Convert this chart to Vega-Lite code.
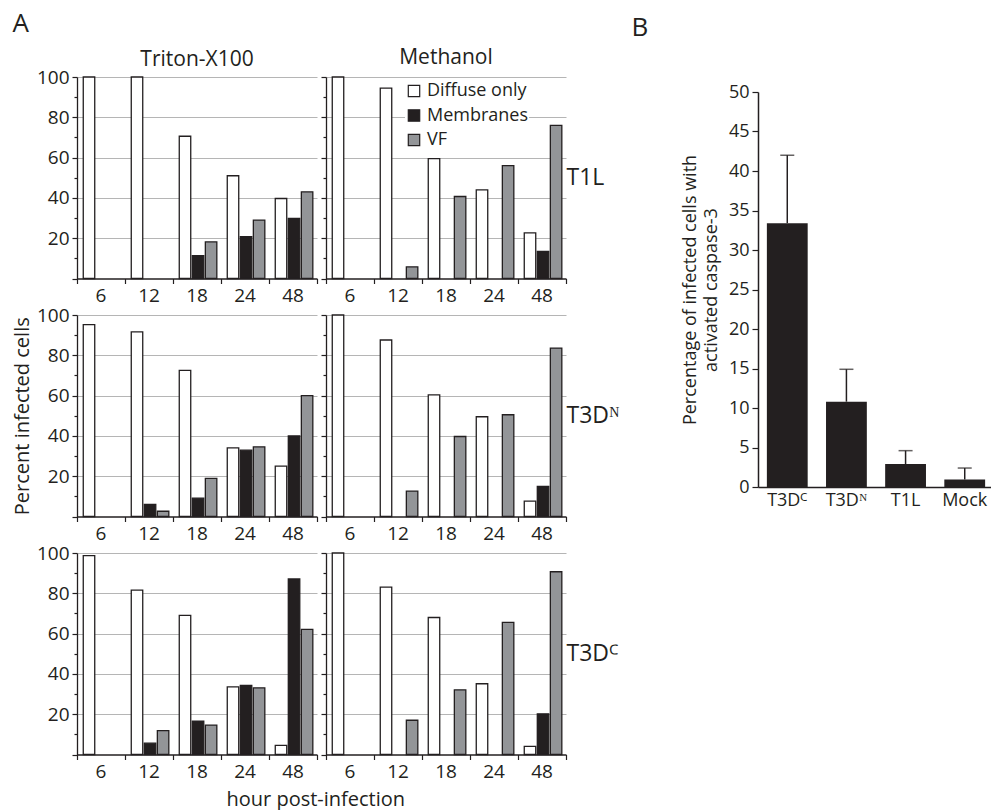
{
  "$schema": "https://vega.github.io/schema/vega-lite/v6.json",
  "padding": {"left": 12, "top": 11, "right": 0, "bottom": 0},
  "background": "white",
  "config": {
    "font": "Open Sans",
    "view": {"stroke": null},
    "axis": {"labelColor": "#231f20", "titleColor": "#231f20", "domainColor": "#231f20", "tickColor": "#231f20", "titleFontWeight": "normal", "domainWidth": 1.3, "tickWidth": 1.2, "labelFont": "Open Sans", "titleFont": "Open Sans"},
    "title": {"fontWeight": "normal", "color": "#231f20", "font": "Open Sans"},
    "legend": {"labelFont": "Open Sans", "labelColor": "#231f20"}
  },
  "datasets": {
    "a": [
      {"t": "Triton-X100", "v": "T1L", "hour": "6", "type": "Diffuse only", "pct": 100},
      {"t": "Triton-X100", "v": "T1L", "hour": "12", "type": "Diffuse only", "pct": 100},
      {"t": "Triton-X100", "v": "T1L", "hour": "18", "type": "Diffuse only", "pct": 70.6},
      {"t": "Triton-X100", "v": "T1L", "hour": "18", "type": "Membranes", "pct": 11.4},
      {"t": "Triton-X100", "v": "T1L", "hour": "18", "type": "VF", "pct": 18.2},
      {"t": "Triton-X100", "v": "T1L", "hour": "24", "type": "Diffuse only", "pct": 51},
      {"t": "Triton-X100", "v": "T1L", "hour": "24", "type": "Membranes", "pct": 20.8},
      {"t": "Triton-X100", "v": "T1L", "hour": "24", "type": "VF", "pct": 29},
      {"t": "Triton-X100", "v": "T1L", "hour": "48", "type": "Diffuse only", "pct": 39.7},
      {"t": "Triton-X100", "v": "T1L", "hour": "48", "type": "Membranes", "pct": 29.8},
      {"t": "Triton-X100", "v": "T1L", "hour": "48", "type": "VF", "pct": 43},
      {"t": "Methanol", "v": "T1L", "hour": "6", "type": "Diffuse only", "pct": 100},
      {"t": "Methanol", "v": "T1L", "hour": "12", "type": "Diffuse only", "pct": 94.5},
      {"t": "Methanol", "v": "T1L", "hour": "12", "type": "VF", "pct": 5.8},
      {"t": "Methanol", "v": "T1L", "hour": "18", "type": "Diffuse only", "pct": 59.5},
      {"t": "Methanol", "v": "T1L", "hour": "18", "type": "VF", "pct": 40.7},
      {"t": "Methanol", "v": "T1L", "hour": "24", "type": "Diffuse only", "pct": 44},
      {"t": "Methanol", "v": "T1L", "hour": "24", "type": "VF", "pct": 56},
      {"t": "Methanol", "v": "T1L", "hour": "48", "type": "Diffuse only", "pct": 22.6},
      {"t": "Methanol", "v": "T1L", "hour": "48", "type": "Membranes", "pct": 13.4},
      {"t": "Methanol", "v": "T1L", "hour": "48", "type": "VF", "pct": 76},
      {"t": "Triton-X100", "v": "T3DN", "hour": "6", "type": "Diffuse only", "pct": 95.2},
      {"t": "Triton-X100", "v": "T3DN", "hour": "12", "type": "Diffuse only", "pct": 91.6},
      {"t": "Triton-X100", "v": "T3DN", "hour": "12", "type": "Membranes", "pct": 6},
      {"t": "Triton-X100", "v": "T3DN", "hour": "12", "type": "VF", "pct": 2.6},
      {"t": "Triton-X100", "v": "T3DN", "hour": "18", "type": "Diffuse only", "pct": 72.5},
      {"t": "Triton-X100", "v": "T3DN", "hour": "18", "type": "Membranes", "pct": 9.1},
      {"t": "Triton-X100", "v": "T3DN", "hour": "18", "type": "VF", "pct": 18.9},
      {"t": "Triton-X100", "v": "T3DN", "hour": "24", "type": "Diffuse only", "pct": 34.1},
      {"t": "Triton-X100", "v": "T3DN", "hour": "24", "type": "Membranes", "pct": 32.9},
      {"t": "Triton-X100", "v": "T3DN", "hour": "24", "type": "VF", "pct": 34.6},
      {"t": "Triton-X100", "v": "T3DN", "hour": "48", "type": "Diffuse only", "pct": 25},
      {"t": "Triton-X100", "v": "T3DN", "hour": "48", "type": "Membranes", "pct": 40},
      {"t": "Triton-X100", "v": "T3DN", "hour": "48", "type": "VF", "pct": 60},
      {"t": "Methanol", "v": "T3DN", "hour": "6", "type": "Diffuse only", "pct": 100},
      {"t": "Methanol", "v": "T3DN", "hour": "12", "type": "Diffuse only", "pct": 87.6},
      {"t": "Methanol", "v": "T3DN", "hour": "12", "type": "VF", "pct": 12.6},
      {"t": "Methanol", "v": "T3DN", "hour": "18", "type": "Diffuse only", "pct": 60.4},
      {"t": "Methanol", "v": "T3DN", "hour": "18", "type": "VF", "pct": 39.7},
      {"t": "Methanol", "v": "T3DN", "hour": "24", "type": "Diffuse only", "pct": 49.5},
      {"t": "Methanol", "v": "T3DN", "hour": "24", "type": "VF", "pct": 50.5},
      {"t": "Methanol", "v": "T3DN", "hour": "48", "type": "Diffuse only", "pct": 7.6},
      {"t": "Methanol", "v": "T3DN", "hour": "48", "type": "Membranes", "pct": 14.9},
      {"t": "Methanol", "v": "T3DN", "hour": "48", "type": "VF", "pct": 83.6},
      {"t": "Triton-X100", "v": "T3DC", "hour": "6", "type": "Diffuse only", "pct": 98.7},
      {"t": "Triton-X100", "v": "T3DC", "hour": "12", "type": "Diffuse only", "pct": 81.6},
      {"t": "Triton-X100", "v": "T3DC", "hour": "12", "type": "Membranes", "pct": 5.6},
      {"t": "Triton-X100", "v": "T3DC", "hour": "12", "type": "VF", "pct": 11.8},
      {"t": "Triton-X100", "v": "T3DC", "hour": "18", "type": "Diffuse only", "pct": 69},
      {"t": "Triton-X100", "v": "T3DC", "hour": "18", "type": "Membranes", "pct": 16.6},
      {"t": "Triton-X100", "v": "T3DC", "hour": "18", "type": "VF", "pct": 14.6},
      {"t": "Triton-X100", "v": "T3DC", "hour": "24", "type": "Diffuse only", "pct": 33.6},
      {"t": "Triton-X100", "v": "T3DC", "hour": "24", "type": "Membranes", "pct": 34.3},
      {"t": "Triton-X100", "v": "T3DC", "hour": "24", "type": "VF", "pct": 33.1},
      {"t": "Triton-X100", "v": "T3DC", "hour": "48", "type": "Diffuse only", "pct": 4.5},
      {"t": "Triton-X100", "v": "T3DC", "hour": "48", "type": "Membranes", "pct": 87.1},
      {"t": "Triton-X100", "v": "T3DC", "hour": "48", "type": "VF", "pct": 62.1},
      {"t": "Methanol", "v": "T3DC", "hour": "6", "type": "Diffuse only", "pct": 100},
      {"t": "Methanol", "v": "T3DC", "hour": "12", "type": "Diffuse only", "pct": 83.1},
      {"t": "Methanol", "v": "T3DC", "hour": "12", "type": "VF", "pct": 17},
      {"t": "Methanol", "v": "T3DC", "hour": "18", "type": "Diffuse only", "pct": 68},
      {"t": "Methanol", "v": "T3DC", "hour": "18", "type": "VF", "pct": 32.1},
      {"t": "Methanol", "v": "T3DC", "hour": "24", "type": "Diffuse only", "pct": 35.1},
      {"t": "Methanol", "v": "T3DC", "hour": "24", "type": "VF", "pct": 65.6},
      {"t": "Methanol", "v": "T3DC", "hour": "48", "type": "Diffuse only", "pct": 4},
      {"t": "Methanol", "v": "T3DC", "hour": "48", "type": "Membranes", "pct": 20.2},
      {"t": "Methanol", "v": "T3DC", "hour": "48", "type": "VF", "pct": 90.7}
    ],
    "b": [
      {"group": "T3Dꟲ", "value": 33.4, "upper": 42},
      {"group": "T3Dᴺ", "value": 10.8, "upper": 14.9},
      {"group": "T1L", "value": 2.9, "upper": 4.6},
      {"group": "Mock", "value": 0.95, "upper": 2.4}
    ]
  },
  "hconcat": [
    {
      "title": {"text": "A", "anchor": "start", "fontSize": 26, "frame": "bounds", "offset": -11, "baseline": "alphabetic"},
      "resolve": {"scale": {"fill": "independent"}, "legend": {"fill": "independent"}},
      "vconcat": [
        {
          "title": {"text": "hour post-infection", "orient": "bottom", "anchor": "middle", "fontSize": 20, "offset": 8},
          "columns": 2,
          "bounds": "flush",
          "spacing": {"row": 36, "column": 9},
          "resolve": {"scale": {"fill": "independent"}, "legend": {"fill": "independent"}},
          "concat": [
            {
              "width": 240, "height": 201.5,
              "title": {"text": "Triton-X100", "frame": "group", "offset": -19, "baseline": "alphabetic", "fontSize": 21},
              "data": {"name": "a"},
              "transform": [{"filter": "datum.t == 'Triton-X100' && datum.v == 'T1L'"}],
              "mark": {"type": "bar", "stroke": "#231f20", "strokeWidth": 1.3},
              "encoding": {
                "x": {"field": "hour", "type": "ordinal", "sort": ["6", "12", "18", "24", "48"], "scale": {"domain": ["6", "12", "18", "24", "48"], "paddingInner": 0, "paddingOuter": 0}, "axis": {"title": null, "labelAngle": 0, "bandPosition": 1, "tickExtra": true, "tickSize": 5, "labelFontSize": 19, "labelPadding": 3, "grid": false}},
                "xOffset": {"field": "type", "type": "nominal", "scale": {"domain": ["Diffuse only", "Membranes", "VF"], "paddingInner": 0.12, "paddingOuter": 0.4, "align": 0.6}},
                "y": {"field": "pct", "type": "quantitative", "scale": {"domain": [0, 100], "nice": false}, "axis": {"title": null, "values": [0, 10, 20, 30, 40, 50, 60, 70, 80, 90, 100], "labelExpr": "datum.value % 20 == 0 && datum.value > 0 ? datum.label : ''", "tickSize": {"condition": {"test": "datum.value % 20 == 0", "value": 5}, "value": 3}, "grid": true, "gridOpacity": {"condition": {"test": "datum.value % 20 == 0 && datum.value > 0", "value": 1}, "value": 0}, "gridColor": "#b5b5b5", "gridWidth": 1.2, "labelFontSize": 19, "labelPadding": 3}},
                "fill": {"field": "type", "type": "nominal", "scale": {"domain": ["Diffuse only", "Membranes", "VF"], "range": ["#ffffff", "#231f20", "#939598"]}, "legend": null}
              }
            },
            {
              "width": 240, "height": 201.5,
              "title": {"text": "Methanol", "frame": "group", "offset": -11, "baseline": "alphabetic", "fontSize": 21},
              "data": {"name": "a"},
              "transform": [{"filter": "datum.t == 'Methanol' && datum.v == 'T1L'"}],
              "layer": [
                {
                  "mark": {"type": "bar", "stroke": "#231f20", "strokeWidth": 1.3},
                  "encoding": {
                    "x": {"field": "hour", "type": "ordinal", "sort": ["6", "12", "18", "24", "48"], "scale": {"domain": ["6", "12", "18", "24", "48"], "paddingInner": 0, "paddingOuter": 0}, "axis": {"title": null, "labelAngle": 0, "bandPosition": 1, "tickExtra": true, "tickSize": 5, "labelFontSize": 19, "labelPadding": 3, "grid": false}},
                    "xOffset": {"field": "type", "type": "nominal", "scale": {"domain": ["Diffuse only", "Membranes", "VF"], "paddingInner": 0.12, "paddingOuter": 0.4, "align": 0.6}},
                    "y": {"field": "pct", "type": "quantitative", "scale": {"domain": [0, 100], "nice": false}, "axis": {"title": null, "orient": "left", "values": [0, 10, 20, 30, 40, 50, 60, 70, 80, 90, 100], "labels": false, "tickSize": {"condition": {"test": "datum.value % 20 == 0", "value": 5}, "value": 3}, "grid": true, "gridOpacity": {"condition": {"test": "datum.value % 20 == 0 && datum.value > 0", "value": 1}, "value": 0}, "gridColor": "#b5b5b5", "gridWidth": 1.2}},
                    "fill": {"field": "type", "type": "nominal", "scale": {"domain": ["Diffuse only", "Membranes", "VF"], "range": ["#ffffff", "#231f20", "#939598"]}, "legend": {"orient": "none", "legendX": 79, "legendY": 5, "title": null, "symbolType": "square", "symbolSize": 130, "symbolStrokeColor": "#231f20", "symbolStrokeWidth": 1.2, "labelFontSize": 18, "rowPadding": 6.5, "padding": 0, "labelOffset": 4, "fillColor": "white"}}
                  }
                },
                {
                  "mark": {"type": "point", "opacity": 0},
                  "encoding": {
                    "y": {"field": "pct", "type": "quantitative", "scale": {"domain": [0, 100], "nice": false}, "axis": {"orient": "right", "title": "T1L", "titleAngle": 0, "titleFontSize": 23, "titleAlign": "left", "titleBaseline": "middle", "titlePadding": 0, "labels": false, "ticks": false, "domain": false, "grid": false}}
                  }
                }
              ],
              "resolve": {"axis": {"y": "independent"}}
            },
            {
              "width": 240, "height": 201.5,
              "data": {"name": "a"},
              "transform": [{"filter": "datum.t == 'Triton-X100' && datum.v == 'T3DN'"}],
              "mark": {"type": "bar", "stroke": "#231f20", "strokeWidth": 1.3},
              "encoding": {
                "x": {"field": "hour", "type": "ordinal", "sort": ["6", "12", "18", "24", "48"], "scale": {"domain": ["6", "12", "18", "24", "48"], "paddingInner": 0, "paddingOuter": 0}, "axis": {"title": null, "labelAngle": 0, "bandPosition": 1, "tickExtra": true, "tickSize": 5, "labelFontSize": 19, "labelPadding": 3, "grid": false}},
                "xOffset": {"field": "type", "type": "nominal", "scale": {"domain": ["Diffuse only", "Membranes", "VF"], "paddingInner": 0.12, "paddingOuter": 0.4, "align": 0.6}},
                "y": {"field": "pct", "type": "quantitative", "scale": {"domain": [0, 100], "nice": false}, "axis": {"title": "Percent infected cells", "titleFontSize": 20, "titlePadding": 4, "values": [0, 10, 20, 30, 40, 50, 60, 70, 80, 90, 100], "labelExpr": "datum.value % 20 == 0 && datum.value > 0 ? datum.label : ''", "tickSize": {"condition": {"test": "datum.value % 20 == 0", "value": 5}, "value": 3}, "grid": true, "gridOpacity": {"condition": {"test": "datum.value % 20 == 0 && datum.value > 0", "value": 1}, "value": 0}, "gridColor": "#b5b5b5", "gridWidth": 1.2, "labelFontSize": 19, "labelPadding": 3}},
                "fill": {"field": "type", "type": "nominal", "scale": {"domain": ["Diffuse only", "Membranes", "VF"], "range": ["#ffffff", "#231f20", "#939598"]}, "legend": null}
              }
            },
            {
              "width": 240, "height": 201.5,
              "data": {"name": "a"},
              "transform": [{"filter": "datum.t == 'Methanol' && datum.v == 'T3DN'"}],
              "layer": [
                {
                  "mark": {"type": "bar", "stroke": "#231f20", "strokeWidth": 1.3},
                  "encoding": {
                    "x": {"field": "hour", "type": "ordinal", "sort": ["6", "12", "18", "24", "48"], "scale": {"domain": ["6", "12", "18", "24", "48"], "paddingInner": 0, "paddingOuter": 0}, "axis": {"title": null, "labelAngle": 0, "bandPosition": 1, "tickExtra": true, "tickSize": 5, "labelFontSize": 19, "labelPadding": 3, "grid": false}},
                    "xOffset": {"field": "type", "type": "nominal", "scale": {"domain": ["Diffuse only", "Membranes", "VF"], "paddingInner": 0.12, "paddingOuter": 0.4, "align": 0.6}},
                    "y": {"field": "pct", "type": "quantitative", "scale": {"domain": [0, 100], "nice": false}, "axis": {"title": null, "orient": "left", "values": [0, 10, 20, 30, 40, 50, 60, 70, 80, 90, 100], "labels": false, "tickSize": {"condition": {"test": "datum.value % 20 == 0", "value": 5}, "value": 3}, "grid": true, "gridOpacity": {"condition": {"test": "datum.value % 20 == 0 && datum.value > 0", "value": 1}, "value": 0}, "gridColor": "#b5b5b5", "gridWidth": 1.2}},
                    "fill": {"field": "type", "type": "nominal", "scale": {"domain": ["Diffuse only", "Membranes", "VF"], "range": ["#ffffff", "#231f20", "#939598"]}, "legend": null}
                  }
                },
                {
                  "mark": {"type": "point", "opacity": 0},
                  "encoding": {
                    "y": {"field": "pct", "type": "quantitative", "scale": {"domain": [0, 100], "nice": false}, "axis": {"orient": "right", "title": "T3Dᴺ", "titleAngle": 0, "titleFontSize": 23, "titleAlign": "left", "titleBaseline": "middle", "titlePadding": 0, "labels": false, "ticks": false, "domain": false, "grid": false}}
                  }
                }
              ],
              "resolve": {"axis": {"y": "independent"}}
            },
            {
              "width": 240, "height": 201.5,
              "data": {"name": "a"},
              "transform": [{"filter": "datum.t == 'Triton-X100' && datum.v == 'T3DC'"}],
              "mark": {"type": "bar", "stroke": "#231f20", "strokeWidth": 1.3},
              "encoding": {
                "x": {"field": "hour", "type": "ordinal", "sort": ["6", "12", "18", "24", "48"], "scale": {"domain": ["6", "12", "18", "24", "48"], "paddingInner": 0, "paddingOuter": 0}, "axis": {"title": null, "labelAngle": 0, "bandPosition": 1, "tickExtra": true, "tickSize": 5, "labelFontSize": 19, "labelPadding": 3, "grid": false}},
                "xOffset": {"field": "type", "type": "nominal", "scale": {"domain": ["Diffuse only", "Membranes", "VF"], "paddingInner": 0.12, "paddingOuter": 0.4, "align": 0.6}},
                "y": {"field": "pct", "type": "quantitative", "scale": {"domain": [0, 100], "nice": false}, "axis": {"title": null, "values": [0, 10, 20, 30, 40, 50, 60, 70, 80, 90, 100], "labelExpr": "datum.value % 20 == 0 && datum.value > 0 ? datum.label : ''", "tickSize": {"condition": {"test": "datum.value % 20 == 0", "value": 5}, "value": 3}, "grid": true, "gridOpacity": {"condition": {"test": "datum.value % 20 == 0 && datum.value > 0", "value": 1}, "value": 0}, "gridColor": "#b5b5b5", "gridWidth": 1.2, "labelFontSize": 19, "labelPadding": 3}},
                "fill": {"field": "type", "type": "nominal", "scale": {"domain": ["Diffuse only", "Membranes", "VF"], "range": ["#ffffff", "#231f20", "#939598"]}, "legend": null}
              }
            },
            {
              "width": 240, "height": 201.5,
              "data": {"name": "a"},
              "transform": [{"filter": "datum.t == 'Methanol' && datum.v == 'T3DC'"}],
              "layer": [
                {
                  "mark": {"type": "bar", "stroke": "#231f20", "strokeWidth": 1.3},
                  "encoding": {
                    "x": {"field": "hour", "type": "ordinal", "sort": ["6", "12", "18", "24", "48"], "scale": {"domain": ["6", "12", "18", "24", "48"], "paddingInner": 0, "paddingOuter": 0}, "axis": {"title": null, "labelAngle": 0, "bandPosition": 1, "tickExtra": true, "tickSize": 5, "labelFontSize": 19, "labelPadding": 3, "grid": false}},
                    "xOffset": {"field": "type", "type": "nominal", "scale": {"domain": ["Diffuse only", "Membranes", "VF"], "paddingInner": 0.12, "paddingOuter": 0.4, "align": 0.6}},
                    "y": {"field": "pct", "type": "quantitative", "scale": {"domain": [0, 100], "nice": false}, "axis": {"title": null, "orient": "left", "values": [0, 10, 20, 30, 40, 50, 60, 70, 80, 90, 100], "labels": false, "tickSize": {"condition": {"test": "datum.value % 20 == 0", "value": 5}, "value": 3}, "grid": true, "gridOpacity": {"condition": {"test": "datum.value % 20 == 0 && datum.value > 0", "value": 1}, "value": 0}, "gridColor": "#b5b5b5", "gridWidth": 1.2}},
                    "fill": {"field": "type", "type": "nominal", "scale": {"domain": ["Diffuse only", "Membranes", "VF"], "range": ["#ffffff", "#231f20", "#939598"]}, "legend": null}
                  }
                },
                {
                  "mark": {"type": "point", "opacity": 0},
                  "encoding": {
                    "y": {"field": "pct", "type": "quantitative", "scale": {"domain": [0, 100], "nice": false}, "axis": {"orient": "right", "title": "T3Dꟲ", "titleAngle": 0, "titleFontSize": 23, "titleAlign": "left", "titleBaseline": "middle", "titlePadding": 0, "labels": false, "ticks": false, "domain": false, "grid": false}}
                  }
                }
              ],
              "resolve": {"axis": {"y": "independent"}}
            }
          ]
        }
      ]
    },
    {
      "title": {"text": "B", "anchor": "start", "fontSize": 26, "frame": "bounds", "offset": 15, "dx": -50, "baseline": "alphabetic"},
      "width": 236, "height": 410,
      "data": {"name": "b"},
      "encoding": {
        "x": {"field": "group", "type": "nominal", "sort": null, "scale": {"paddingInner": 0.31, "paddingOuter": 0.15}, "axis": {"title": null, "labelAngle": 0, "ticks": false, "labelFontSize": 18, "labelPadding": 4, "domainWidth": 1.5}}
      },
      "layer": [
        {
          "mark": {"type": "bar", "color": "#231f20"},
          "encoding": {
            "y": {"field": "value", "type": "quantitative", "scale": {"domain": [0, 50], "nice": false, "range": [410, 15]}, "axis": {"values": [0, 5, 10, 15, 20, 25, 30, 35, 40, 45, 50], "labelOverlap": false, "grid": false, "tickSize": 6, "labelFontSize": 18, "labelPadding": 3, "title": ["Percentage of infected cells with", "activated caspase-3"], "titleFontSize": 18, "titlePadding": 8, "titleLineHeight": 21, "domainWidth": 1.5}}
          }
        },
        {
          "mark": {"type": "rule", "color": "#231f20", "strokeWidth": 1.5},
          "encoding": {
            "y": {"field": "value", "type": "quantitative", "scale": {"domain": [0, 50], "nice": false, "range": [410, 15]}, "axis": {"values": [0, 5, 10, 15, 20, 25, 30, 35, 40, 45, 50], "labelOverlap": false, "grid": false, "tickSize": 6, "labelFontSize": 18, "labelPadding": 3, "title": ["Percentage of infected cells with", "activated caspase-3"], "titleFontSize": 18, "titlePadding": 8, "titleLineHeight": 21, "domainWidth": 1.5}},
            "y2": {"field": "upper"}
          }
        },
        {
          "mark": {"type": "tick", "color": "#231f20", "orient": "horizontal", "size": 14, "thickness": 1.5},
          "encoding": {
            "y": {"field": "upper", "type": "quantitative", "scale": {"domain": [0, 50], "nice": false, "range": [410, 15]}, "axis": {"values": [0, 5, 10, 15, 20, 25, 30, 35, 40, 45, 50], "labelOverlap": false, "grid": false, "tickSize": 6, "labelFontSize": 18, "labelPadding": 3, "title": ["Percentage of infected cells with", "activated caspase-3"], "titleFontSize": 18, "titlePadding": 8, "titleLineHeight": 21, "domainWidth": 1.5}}
          }
        }
      ]
    }
  ],
  "spacing": 11,
  "resolve": {"scale": {"fill": "independent"}, "legend": {"fill": "independent"}}
}
